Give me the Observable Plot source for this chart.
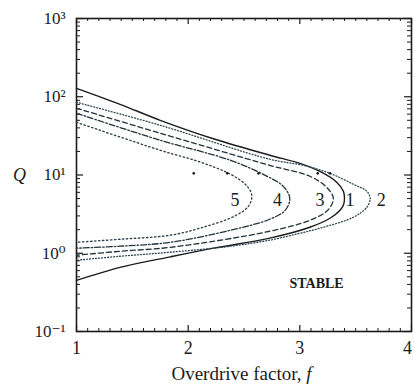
<!DOCTYPE html>
<html><head><meta charset="utf-8">
<script src="https://cdn.jsdelivr.net/npm/d3@7"></script>
<script src="https://cdn.jsdelivr.net/npm/@observablehq/plot@0.6"></script>
<style>html,body{margin:0;padding:0;background:#fff;} svg{display:block}</style>
</head><body><div id="chart"></div>
<script>
// ---- data ----
const curve1F = [1.00, 1.39, 1.75, 2.24, 2.73, 3.00, 3.18, 3.33, 3.39, 3.40, 3.39, 3.36, 3.27, 3.09, 2.73, 2.24, 1.84, 1.39, 1.00];
const curve1Q = [128, 80, 50, 28.6, 17.9, 14.1, 11.1, 8.1, 6.2, 5.05, 4.1, 3.55, 2.8, 2.15, 1.56, 1.17, 0.90, 0.66, 0.45];
const curve2F = [1.00, 1.75, 2.73, 3.03, 3.27, 3.48, 3.60, 3.63, 3.60, 3.48, 3.18, 3.00, 2.73, 2.38, 1.84, 1.39, 1.00];
const curve2Q = [85.1, 43.2, 15.9, 13.3, 10.5, 7.6, 6.2, 5.05, 3.87, 2.89, 2.09, 1.80, 1.47, 1.23, 1.03, 0.916, 0.814];
const curve3F = [1.00, 1.75, 2.73, 3.09, 3.23, 3.30, 3.25, 3.09, 2.73, 1.84, 1.39, 1.00];
const curve3Q = [71.3, 34.2, 13.3, 9.64, 7.18, 5.05, 3.55, 2.64, 1.91, 1.19, 1.06, 0.943];
const curve4F = [1.00, 1.75, 2.38, 2.69, 2.85, 2.91, 2.87, 2.73, 2.38, 1.84, 1.39, 1.00];
const curve4Q = [61.5, 27.8, 15.4, 9.9, 7.2, 5.05, 3.55, 2.72, 1.97, 1.38, 1.23, 1.16];
const curve5F = [1.00, 1.75, 2.11, 2.38, 2.52, 2.57, 2.54, 2.42, 2.11, 1.84, 1.39, 1.00];
const curve5Q = [47.2, 20.7, 14.6, 10.2, 7.4, 5.5, 4.0, 3.0, 2.1, 1.70, 1.51, 1.38];

const labelText = ["5", "4", "3", "1", "2"];
const labelF = [2.42, 2.80, 3.18, 3.45, 3.73];
const labelQ = [4.76, 4.76, 4.76, 4.76, 4.76];

const markerF = [2.05, 2.35, 2.63, 3.16, 3.27];
const markerQ = [10.5, 10.5, 10.5, 10.5, 10.5];

const xTickValues = [1, 2, 3, 4];
const xTickLabels = ["1", "2", "3", "4"];
const yTickValues = [0.1, 1, 10, 100, 1000];
const yTickLabels = ["10\u207B\u00B9", "10\u2070", "10\u00B9", "10\u00B2", "10\u00B3"];

// ---- build tables ----
const toRows = (F, Q) => F.map((f, i) => ({f, Q: Q[i]}));
const c1 = toRows(curve1F, curve1Q), c2 = toRows(curve2F, curve2Q), c3 = toRows(curve3F, curve3Q),
      c4 = toRows(curve4F, curve4Q), c5 = toRows(curve5F, curve5Q);
const labels = labelText.map((t, i) => ({t, f: labelF[i], Q: labelQ[i]}));
const markers = markerF.map((f, i) => ({f, Q: markerQ[i]}));

const xMinor = d3.range(10, 41).map(v => v / 10).filter(v => !xTickValues.includes(v));
const yMinor = [];
for (const d of [0.1, 1, 10, 100]) for (let k = 2; k <= 9; k++) yMinor.push(+(k * d).toPrecision(3));

const W = 414, H = 388, mL = 76, mR = 3, mT = 18, mB = 57;
const fw = W - mL - mR, fh = H - mT - mB;
const ink = "#1b1b1b";
const lineOpts = {x: "f", y: "Q", curve: "catmull-rom", strokeWidth: 1.3};

const chart = Plot.plot({
  width: W, height: H,
  marginLeft: mL, marginRight: mR, marginTop: mT, marginBottom: mB,
  style: {fontFamily: "'Liberation Serif', 'DejaVu Serif', serif", background: "#fff", color: ink},
  x: {domain: [1, 4]},
  y: {type: "log", domain: [0.1, 1000]},
  marks: [
    // inward ticks
    Plot.tickX(xTickValues, {x: d => d, insetTop: fh - 6, stroke: ink, strokeWidth: 1.2}),
    Plot.tickX(xMinor, {x: d => d, insetTop: fh - 3, stroke: ink}),
    Plot.tickX(xTickValues, {x: d => d, insetBottom: fh - 6, stroke: ink, strokeWidth: 1.2}),
    Plot.tickX(xMinor, {x: d => d, insetBottom: fh - 3, stroke: ink}),
    Plot.tickY(yTickValues, {y: d => d, insetRight: fw - 7, stroke: ink, strokeWidth: 1.2}),
    Plot.tickY(yMinor, {y: d => d, insetRight: fw - 4, stroke: ink}),
    Plot.tickY(yTickValues, {y: d => d, insetLeft: fw - 7, stroke: ink, strokeWidth: 1.2}),
    Plot.tickY(yMinor, {y: d => d, insetLeft: fw - 4, stroke: ink}),
    Plot.axisX(xTickValues.slice(0, 3), {tickSize: 0, tickPadding: 10, fontSize: 18, tickFormat: d => xTickLabels[xTickValues.indexOf(d)], label: null}),
    Plot.axisX(xTickValues.slice(3), {tickSize: 0, tickPadding: 10, fontSize: 18, dx: -4, tickFormat: d => xTickLabels[xTickValues.indexOf(d)], label: null}),
    Plot.axisY(yTickValues, {tickSize: 0, tickPadding: 11, fontSize: 17, tickFormat: d => yTickLabels[yTickValues.indexOf(d)], label: null}),
    Plot.frame({stroke: ink, strokeWidth: 1.6}),
    // curves
    Plot.line(c1, {...lineOpts, stroke: ink, strokeWidth: 1.4}),
    Plot.line(c2, {...lineOpts, stroke: "#2f4752", strokeDasharray: "1,2"}),
    Plot.line(c3, {...lineOpts, stroke: "#22323a", strokeDasharray: "5,3"}),
    Plot.line(c4, {...lineOpts, stroke: "#22323a", strokeDasharray: "6,2,1.5,2"}),
    Plot.line(c5, {...lineOpts, stroke: "#2a3d46", strokeDasharray: "1.5,2.5"}),
    Plot.dot(markers, {x: "f", y: "Q", r: 1.3, fill: ink}),
    Plot.text(labels, {x: "f", y: "Q", text: "t", fontSize: 18, fill: ink}),
    Plot.text(["STABLE"], {x: 3.15, y: 0.41, text: d => d, fontSize: 14, fontWeight: "bold", fill: ink}),
    Plot.text(["Q"], {x: 1, y: 10, dx: -57, text: d => d, fontSize: 18, fontStyle: "italic", fill: ink})
  ]
});

const svg = d3.select(chart);
const xl = svg.append("text")
  .attr("x", mL + fw / 2 - 2).attr("y", 380)
  .attr("text-anchor", "middle")
  .attr("font-size", 19).attr("fill", ink);
xl.append("tspan").text("Overdrive factor, ");
xl.append("tspan").attr("font-style", "italic").text("f");

document.getElementById("chart").appendChild(chart);
</script></body></html>
